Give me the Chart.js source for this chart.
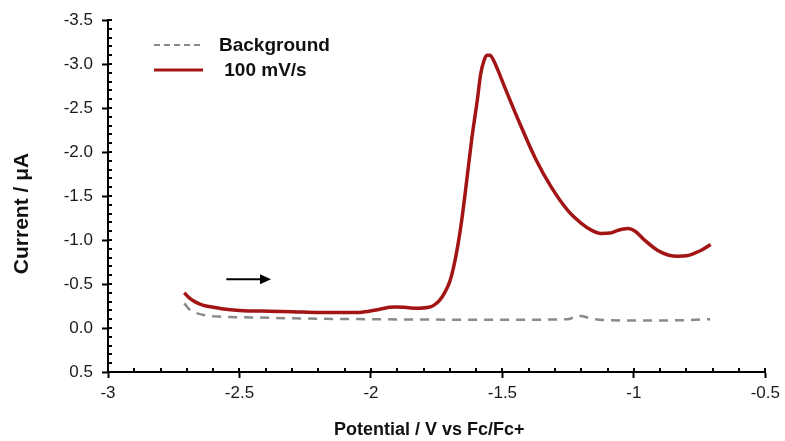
<!DOCTYPE html>
<html>
<head>
<meta charset="utf-8">
<script src="https://cdn.jsdelivr.net/npm/chart.js@4.4.0/dist/chart.umd.min.js"></script>
<style>
  html, body { margin: 0; padding: 0; background: #fff; }
  #wrap { width: 785px; height: 441px; }
</style>
</head>
<body>
<div id="wrap"><canvas id="c" width="785" height="441"></canvas></div>
<script>
// ---- data ----
const cvPotential = [-2.71, -2.69, -2.67, -2.64, -2.60, -2.56, -2.50, -2.386, -2.30, -2.197, -2.10, -2.034, -1.97, -1.93, -1.905, -1.856, -1.818, -1.78, -1.76, -1.74, -1.72, -1.70, -1.685, -1.67, -1.655, -1.640, -1.617, -1.595, -1.583, -1.570, -1.558, -1.548, -1.535, -1.520, -1.505, -1.489, -1.439, -1.375, -1.314, -1.250, -1.20, -1.160, -1.125, -1.090, -1.061, -1.023, -0.995, -0.960, -0.909, -0.870, -0.833, -0.800, -0.769, -0.740, -0.708];
const cvCurrent   = [-0.40, -0.34, -0.30, -0.26, -0.235, -0.215, -0.20, -0.19, -0.185, -0.175, -0.175, -0.18, -0.21, -0.235, -0.24, -0.23, -0.225, -0.235, -0.26, -0.31, -0.40, -0.53, -0.70, -0.93, -1.22, -1.57, -2.14, -2.60, -2.88, -3.04, -3.10, -3.10, -3.05, -2.95, -2.84, -2.72, -2.36, -1.93, -1.60, -1.33, -1.19, -1.11, -1.075, -1.08, -1.11, -1.13, -1.10, -1.00, -0.88, -0.83, -0.815, -0.82, -0.85, -0.89, -0.95];
const bgPotential = [-2.71, -2.69, -2.64, -2.58, -2.45, -2.2, -2.0, -1.7, -1.4, -1.25, -1.21, -1.19, -1.15, -1.0, -0.8, -0.71];
const bgCurrent   = [-0.28, -0.21, -0.15, -0.13, -0.12, -0.105, -0.10, -0.095, -0.095, -0.10, -0.14, -0.13, -0.10, -0.085, -0.09, -0.10];
const xTickValues = [-3, -2.5, -2, -1.5, -1, -0.5];
const xTickLabels = ['-3', '-2.5', '-2', '-1.5', '-1', '-0.5'];
const yTickValues = [-3.5, -3.0, -2.5, -2.0, -1.5, -1.0, -0.5, 0.0, 0.5];
const yTickLabels = ['-3.5', '-3.0', '-2.5', '-2.0', '-1.5', '-1.0', '-0.5', '0.0', '0.5'];
const seriesNames = ['Background', ' 100 mV/s'];
const arrowX = [-2.55, -2.38];
const arrowY = -0.555;

const toPts = (xs, ys) => xs.map((x, i) => ({x: x, y: ys[i]}));

const FONT = "'Liberation Sans', Arial, sans-serif";
const RED = '#a31515';
const GRAY = '#8a8a8a';

const extrasPlugin = {
  id: 'extras',
  afterDraw(chart) {
    const ctx = chart.ctx;
    const xs = chart.scales.x, ys = chart.scales.y;
    const area = chart.chartArea;
    ctx.save();
    // minor + inner ticks
    ctx.strokeStyle = '#000';
    ctx.lineWidth = 2;
    ctx.beginPath();
    for (let i = 0; i <= 25; i++) {
      const v = -3 + i * 0.1;
      const px = Math.round(xs.getPixelForValue(v));
      ctx.moveTo(px, area.bottom);
      ctx.lineTo(px, area.bottom - 4);
    }
    for (let i = 0; i <= 40; i++) {
      const v = -3.5 + i * 0.1;
      const py = Math.round(ys.getPixelForValue(v));
      ctx.moveTo(area.left, py);
      ctx.lineTo(area.left + 4, py);
    }
    ctx.stroke();

    // arrow
    const ax0 = xs.getPixelForValue(arrowX[0]);
    const ax1 = xs.getPixelForValue(arrowX[1]);
    const ay = ys.getPixelForValue(arrowY);
    ctx.strokeStyle = '#000';
    ctx.fillStyle = '#000';
    ctx.lineWidth = 2;
    ctx.beginPath();
    ctx.moveTo(ax0, ay);
    ctx.lineTo(ax1 - 8, ay);
    ctx.stroke();
    ctx.beginPath();
    ctx.moveTo(ax1, ay);
    ctx.lineTo(ax1 - 11, ay - 5);
    ctx.lineTo(ax1 - 11, ay + 5);
    ctx.closePath();
    ctx.fill();

    // legend
    const ds = chart.data.datasets;
    const lx0 = 154, lx1 = 203;
    const rows = [45, 70];
    ctx.font = "bold 19px " + FONT;
    ctx.textBaseline = 'middle';
    ctx.textAlign = 'left';
    ds.forEach((d, i) => {
      ctx.strokeStyle = d.borderColor;
      ctx.lineWidth = i === 0 ? 2 : 3;
      ctx.setLineDash(i === 0 ? [6, 4] : []);
      ctx.beginPath();
      ctx.moveTo(lx0, rows[i]);
      ctx.lineTo(lx1, rows[i]);
      ctx.stroke();
      ctx.setLineDash([]);
      ctx.fillStyle = '#111';
      ctx.fillText(d.label, 219, rows[i] + 1);
    });
    ctx.restore();
  }
};

new Chart(document.getElementById('c'), {
  type: 'line',
  data: {
    datasets: [
      {
        label: seriesNames[0],
        data: toPts(bgPotential, bgCurrent),
        borderColor: GRAY,
        borderWidth: 2.5,
        borderDash: [9, 7],
        pointRadius: 0,
        cubicInterpolationMode: 'monotone',
        fill: false
      },
      {
        label: seriesNames[1],
        data: toPts(cvPotential, cvCurrent),
        borderColor: RED,
        borderWidth: 3.5,
        pointRadius: 0,
        cubicInterpolationMode: 'monotone',
        fill: false
      }
    ]
  },
  options: {
    responsive: false,
    animation: false,
    devicePixelRatio: 1,
    layout: { padding: { top: 20, right: 17, left: 0, bottom: 0 } },
    plugins: {
      legend: { display: false },
      tooltip: { enabled: false }
    },
    scales: {
      x: {
        type: 'linear',
        min: -3,
        max: -0.5,
        afterBuildTicks: (s) => { s.ticks = xTickValues.map(v => ({value: v})); },
        afterFit: (s) => { s.height = 69; },
        ticks: {
          autoSkip: false,
          maxRotation: 0,
          padding: 5,
          color: '#1a1a1a',
          font: { family: FONT, size: 17 },
          callback: (v) => { const i = xTickValues.indexOf(v); return i >= 0 ? xTickLabels[i] : ''; }
        },
        grid: { drawOnChartArea: false, tickLength: 6, tickColor: '#000', tickWidth: 2 },
        border: { display: true, color: '#000', width: 2 },
        title: {
          display: true,
          text: 'Potential / V vs Fc/Fc+   ',
          color: '#111',
          font: { family: FONT, size: 18, weight: 'bold' },
          padding: { top: 0, bottom: 0 }
        }
      },
      y: {
        type: 'linear',
        reverse: true,
        min: -3.5,
        max: 0.5,
        afterBuildTicks: (s) => { s.ticks = yTickValues.map(v => ({value: v})); },
        afterFit: (s) => { s.width = 108; },
        ticks: {
          autoSkip: false,
          padding: 9,
          color: '#1a1a1a',
          font: { family: FONT, size: 17 },
          callback: (v) => { const i = yTickValues.indexOf(v); return i >= 0 ? yTickLabels[i] : ''; }
        },
        grid: { drawOnChartArea: false, tickLength: 6, tickColor: '#000', tickWidth: 2 },
        border: { display: true, color: '#000', width: 2 },
        title: {
          display: true,
          text: 'Current / μA      ',
          color: '#111',
          font: { family: FONT, size: 21, weight: 'bold' },
          padding: { top: 10, bottom: 0 }
        }
      }
    }
  },
  plugins: [extrasPlugin]
});
</script>
</body>
</html>
